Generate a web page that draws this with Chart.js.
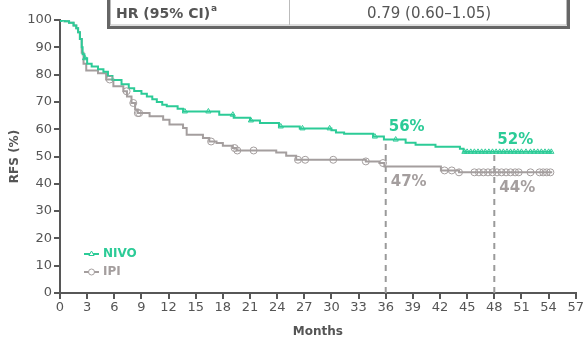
<!DOCTYPE html>
<html>
<head>
<meta charset="utf-8">
<script src="https://cdn.jsdelivr.net/npm/chart.js@4"></script>
<style>
  html, body { margin: 0; padding: 0; background: #fff; }
  #wrap { width: 585px; height: 339px; position: relative; }
</style>
</head>
<body>
<div id="wrap"><canvas id="id-rfs-chart" width="585" height="339"></canvas></div>
<script>
// Kaplan-Meier steps: month of event, RFS after the drop
const nivo_months = [0, 0.5, 1.0, 1.5, 1.8, 2.0, 2.2, 2.4, 2.5, 2.7, 3.0, 3.5, 4.2, 4.8, 5.3, 5.8, 6.8, 7.6, 8.2, 9.0, 9.6, 10.2, 10.7, 11.3, 11.8, 13.0, 13.6, 17.6, 19.2, 21.0, 22.1, 24.2, 26.5, 30.0, 30.5, 31.4, 34.6, 35.8, 38.2, 39.3, 41.5, 44.2, 44.6, 54.4];
const nivo_rfs    = [100, 99.5, 99, 98, 97, 95.5, 93, 90, 87.5, 86, 84, 83, 82, 81, 79.5, 78, 76.5, 75, 74, 73, 72, 71, 70, 69, 68.4, 67.5, 66.5, 65.3, 64.2, 63.2, 62.3, 61, 60.3, 59.6, 58.8, 58.3, 57.3, 56.2, 55, 54.3, 53.6, 52.8, 51.7, 51.7];

const ipi_months = [0, 0.5, 1.0, 1.5, 1.8, 2.0, 2.2, 2.4, 2.6, 2.9, 4.2, 5.1, 5.9, 7.0, 7.4, 7.9, 8.3, 8.6, 9.9, 11.4, 12.1, 13.6, 14.0, 15.8, 16.5, 17.3, 18.0, 19.1, 19.5, 23.9, 25.0, 26.1, 33.8, 35.3, 35.85, 42.1, 44.1, 54.4];
const ipi_rfs    = [100, 99.5, 99, 98, 97, 95.5, 93, 88, 84, 81.5, 80.5, 78.2, 75.7, 73.9, 72, 69.6, 67.2, 65.9, 64.7, 63.5, 61.7, 60.4, 58, 56.8, 55.5, 54.9, 53.9, 53.1, 52.2, 51.5, 50.3, 48.8, 48.2, 47.6, 46.3, 44.9, 44.2, 44.2];

// censored patients (marks)
const nivo_censor_months = [0, 2.76, 13.8, 16.4, 19.1, 21.1, 24.4, 26.8, 29.8, 34.8, 37.1, 44.7, 45.0, 45.4, 45.8, 46.2, 46.6, 47.0, 47.4, 47.8, 48.2, 48.6, 49.0, 49.4, 49.8, 50.2, 50.6, 51.0, 51.5, 52.0, 52.4, 52.8, 53.2, 53.6, 54.0, 54.3];
const ipi_censor_months = [5.5, 7.36, 8.1, 8.6, 8.75, 16.7, 19.3, 19.6, 21.4, 26.3, 27.1, 30.2, 33.8, 35.7, 42.5, 43.3, 44.1, 45.8, 46.3, 46.8, 47.3, 47.8, 48.3, 48.8, 49.3, 49.8, 50.3, 50.7, 52.0, 53.0, 53.4, 53.8, 54.2];

// landmark estimates
const landmark_months = [36, 48];
const nivo_landmark = ['56%', '52%'];
const ipi_landmark = ['47%', '44%'];

const x_ticks = [0, 3, 6, 9, 12, 15, 18, 21, 24, 27, 30, 33, 36, 39, 42, 45, 48, 51, 54, 57];
const y_ticks = [0, 10, 20, 30, 40, 50, 60, 70, 80, 90, 100];

const hr_label = 'HR (95% CI)';
const hr_value = '0.79 (0.60\u20131.05)';

const GREEN = '#2ccb97';
const GREY = '#a49e9e';
const AXIS = '#575757';
const FONT = '"DejaVu Sans", sans-serif';

function StepAt(months, values, m)
{
  let v = values[0];
  for (let i = 0; i < months.length; i++)
    if (months[i] <= m) v = values[i];
  return v;
}

function ToPoints(months, values) { return months.map((m, i) => ({ x: m, y: values[i] })); }

function CensorPoints(months, step_months, step_values)
{
  return months.map(m => ({ x: m, y: StepAt(step_months, step_values, m) }));
}

const overlay_plugin =
{
  id: 'overlay',
  afterDraw(chart)
  {
    const ctx = chart.ctx;
    const xs = chart.scales.x;
    const ys = chart.scales.y;
    ctx.save();

    // HR box at the top
    ctx.fillStyle = '#fff';
    ctx.fillRect(108, -5, 461, 33);
    ctx.strokeStyle = '#666';
    ctx.lineWidth = 3;
    ctx.strokeRect(108.5, -5, 460, 32.5);
    ctx.strokeStyle = '#bbb';
    ctx.lineWidth = 1;
    ctx.strokeRect(110.5, -5, 456, 30);
    ctx.beginPath();
    ctx.moveTo(289.5, 0);
    ctx.lineTo(289.5, 25);
    ctx.stroke();

    ctx.fillStyle = '#555';
    ctx.textBaseline = 'alphabetic';
    ctx.textAlign = 'left';
    ctx.font = 'bold 14px ' + FONT;
    ctx.fillText(hr_label, 116, 18);
    const w = ctx.measureText(hr_label).width;
    ctx.font = 'bold 9px ' + FONT;
    ctx.fillText('a', 116 + w + 1, 11);
    ctx.font = '15px ' + FONT;
    ctx.textAlign = 'center';
    ctx.fillText(hr_value, 429, 18);

    // landmark labels
    ctx.textAlign = 'left';
    ctx.textBaseline = 'middle';
    ctx.font = 'bold 15px ' + FONT;
    landmark_months.forEach((m, i) =>
    {
      const px = xs.getPixelForValue(m);
      ctx.fillStyle = GREEN;
      ctx.fillText(nivo_landmark[i], px + 3, ys.getPixelForValue(StepAt(nivo_months, nivo_rfs, m)) - 12);
      ctx.fillStyle = GREY;
      ctx.fillText(ipi_landmark[i], px + 5, ys.getPixelForValue(StepAt(ipi_months, ipi_rfs, m)) + 16);
    });

    // legend
    const items = [['NIVO', GREEN, 'triangle', 254], ['IPI', GREY, 'circle', 272]];
    items.forEach(([name, color, style, y]) =>
    {
      ctx.strokeStyle = color;
      ctx.lineWidth = 2;
      ctx.beginPath();
      ctx.moveTo(84, y);
      ctx.lineTo(99, y);
      ctx.stroke();
      ctx.lineWidth = 1;
      ctx.fillStyle = '#fff';
      Chart.helpers.drawPoint(ctx, { pointStyle: style, radius: 3, borderWidth: 1 }, 91.5, y);
      ctx.fillStyle = color;
      ctx.font = 'bold 12px ' + FONT;
      ctx.textBaseline = 'middle';
      ctx.fillText(name, 103, y);
    });

    ctx.restore();
  }
};

document.addEventListener('DOMContentLoaded', function()
{
  const datasets =
  [
    {
      label: 'NIVO',
      data: ToPoints(nivo_months, nivo_rfs),
      stepped: true,
      borderColor: GREEN,
      borderWidth: 2,
      pointRadius: 0,
      order: 1
    },
    {
      label: 'IPI',
      data: ToPoints(ipi_months, ipi_rfs),
      stepped: true,
      borderColor: GREY,
      borderWidth: 2,
      pointRadius: 0,
      order: 2
    },
    {
      label: 'NIVO censored',
      data: CensorPoints(nivo_censor_months, nivo_months, nivo_rfs),
      showLine: false,
      pointStyle: 'triangle',
      pointRadius: 3,
      pointBorderWidth: 1,
      pointBorderColor: GREEN,
      pointBackgroundColor: 'rgba(0,0,0,0)',
      order: 0
    },
    {
      label: 'IPI censored',
      data: CensorPoints(ipi_censor_months, ipi_months, ipi_rfs),
      showLine: false,
      pointStyle: 'circle',
      pointRadius: 3.5,
      pointBorderWidth: 1,
      pointBorderColor: GREY,
      pointBackgroundColor: 'rgba(0,0,0,0)',
      order: 0
    }
  ];

  landmark_months.forEach(m =>
  {
    datasets.push(
    {
      label: 'landmark ' + m,
      data: [{ x: m, y: 0 }, { x: m, y: StepAt(nivo_months, nivo_rfs, m) - 0.5 }],
      borderColor: '#9a9a9a',
      borderWidth: 2,
      borderDash: [6, 5],
      pointRadius: 0,
      order: 3
    });
  });

  const config =
  {
    type: 'line',
    data: { datasets: datasets },
    options:
    {
      animation: false,
      responsive: false,
      layout: { padding: { top: 20, right: 8, left: 0, bottom: 0 } },
      plugins: { legend: { display: false }, tooltip: { enabled: false } },
      scales:
      {
        x:
        {
          type: 'linear',
          min: 0,
          max: 57,
          afterBuildTicks: s => { s.ticks = x_ticks.map(v => ({ value: v })); },
          afterFit: s => { s.height = 46; },
          grid: { drawOnChartArea: false, drawTicks: true, tickLength: 6, color: AXIS, lineWidth: 2 },
          border: { display: true, color: AXIS, width: 2 },
          ticks: { color: '#555', font: { family: FONT, size: 13 }, padding: 1, maxRotation: 0, autoSkip: false },
          title: { display: true, text: 'Months', color: '#555', font: { family: FONT, size: 12, weight: 'bold' }, padding: { top: 3, bottom: 0 } }
        },
        y:
        {
          min: 0,
          max: 100,
          afterBuildTicks: s => { s.ticks = y_ticks.map(v => ({ value: v })); },
          afterFit: s => { s.width = 60; },
          grid: { drawOnChartArea: false, drawTicks: true, tickLength: 6, color: AXIS, lineWidth: 2 },
          border: { display: true, color: AXIS, width: 2 },
          ticks: { color: '#555', font: { family: FONT, size: 13 }, padding: 2 },
          title: { display: true, text: 'RFS (%)', color: '#555', font: { family: FONT, size: 12, weight: 'bold' }, padding: { top: 8, bottom: 0 } }
        }
      }
    },
    plugins: [overlay_plugin]
  };

  new Chart(document.getElementById('id-rfs-chart').getContext('2d'), config);
});
</script>
</body>
</html>
